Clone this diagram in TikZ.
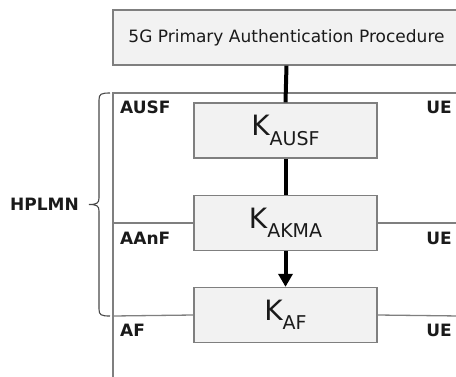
\documentclass[tikz,border=0pt]{standalone}
\usepackage{fontspec}
\setmainfont{DejaVu Sans}
\usetikzlibrary{arrows.meta}
\definecolor{boxfill}{HTML}{F2F2F2}
\definecolor{boxline}{HTML}{7F7F7F}
\definecolor{txt}{HTML}{1A1A1A}
\tikzset{
  keybox/.style={draw=boxline, fill=boxfill, line width=1.3pt, minimum width=183pt,
    minimum height=55pt, inner sep=0pt, text=txt, font=\fontsize{28}{30}\selectfont},
  titlebox/.style={draw=boxline, fill=boxfill, line width=1.3pt, minimum width=347pt,
    minimum height=55pt, inner sep=0pt, text=txt, font=\fontsize{17}{20}\selectfont},
  lbl/.style={inner sep=0pt, text=txt, font=\bfseries\fontsize{17}{19}\selectfont},
  frame/.style={draw=boxline, line width=1.3pt},
  flow/.style={draw=black, line width=4pt},
}
\newcommand{\keysub}[1]{{\fontsize{19}{20}\selectfont #1}}
\begin{document}
\begin{tikzpicture}[x=1pt, y=-1pt]
  \useasboundingbox (0,0) rectangle (456,376);
  \clip (0,0) rectangle (456,376);

  % outer frame and separators
  \draw[frame] (113,380) -- (113,93) -- (460,93);

  % procedure and keys
  \node[titlebox] (proc) at (286.5,37.5) {5G Primary Authentication Procedure};
  \node[keybox] (kausf) at (285.5,130.5) {K\raisebox{-0.34em}{\keysub{AUSF}}};
  \node[keybox] (kakma) at (285.5,223) {K\raisebox{-0.34em}{\keysub{AKMA}}};
  \node[keybox] (kaf)   at (285.5,315) {K\raisebox{-0.34em}{\keysub{AF}}};

  \draw[frame] (113,223) -- (kakma.west);
  \draw[frame] (kakma.east) -- (460,223);
  \draw[frame] (113,316) -- (kaf.west);
  \draw[frame] (kaf.east) -- (460,316);

  % derivation chain
  \draw[flow] (proc.south) -- (kausf.north);
  \draw[flow] (kausf.south) -- (kakma.north);
  \draw[flow, -{Triangle[width=14pt, length=13pt]}] (kakma.south) -- (kaf.north);

  % entity labels
  \node[lbl, anchor=base west] (ausf) at (120,113) {AUSF};
  \node[lbl, anchor=base east] (ue1) at (452,113) {UE};
  \node[lbl, anchor=base west] (aanf) at (120,244) {AAnF};
  \node[lbl, anchor=base east] (ue2) at (452,244) {UE};
  \node[lbl, anchor=base west] (af) at (120,336) {AF};
  \node[lbl, anchor=base east] (ue3) at (452,336) {UE};
  \node[lbl, anchor=base west] (hplmn) at (10,210.5) {HPLMN};

  % home network brace
  \draw[draw=txt!80, line width=1.1pt]
    (110,93) .. controls (101,93) and (99,94) .. (99,100) -- (99,198)
    .. controls (99,203) and (97,204.5) .. (89,204.5)
    .. controls (97,204.5) and (99,206) .. (99,211) -- (99,309)
    .. controls (99,315) and (101,316) .. (110,316);
\end{tikzpicture}
\end{document}
